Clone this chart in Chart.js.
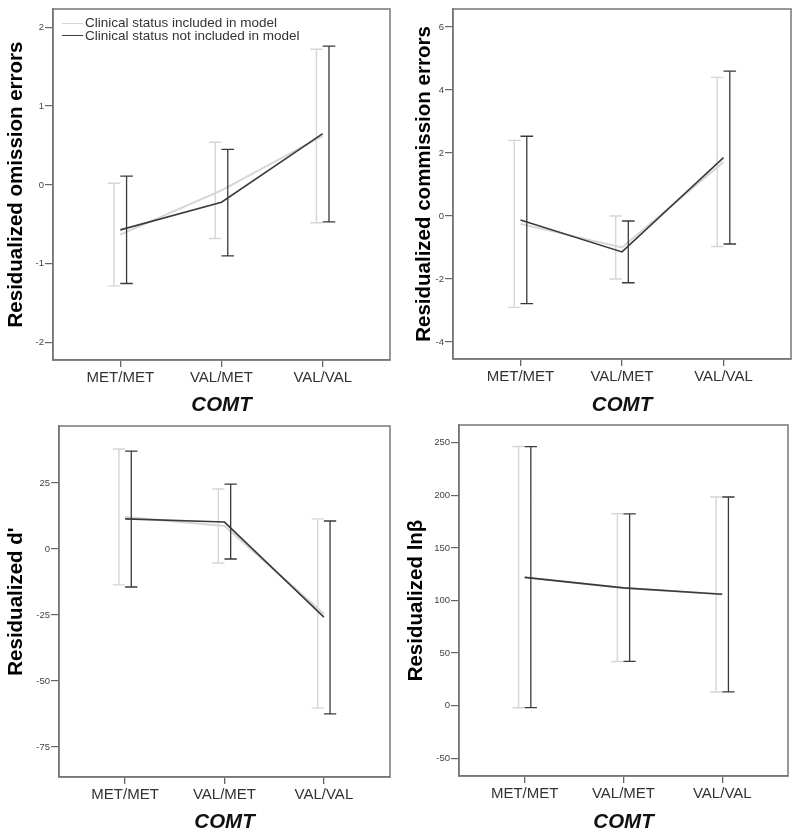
<!DOCTYPE html>
<html>
<head>
<meta charset="utf-8">
<script src="https://cdn.jsdelivr.net/npm/chart.js@4/dist/chart.umd.min.js"></script>
<style>
  html, body { margin: 0; padding: 0; background: #fff; }
  body { width: 800px; height: 835px; position: relative; overflow: hidden; font-family: "Liberation Sans", Arial, sans-serif; }
  .panel { position: absolute; }
  #legend { position: absolute; left: 62px; top: 17px; font-size: 13.5px; color: #333; line-height: 12.5px; }
  #legend .row { display: flex; align-items: center; height: 12.5px; white-space: nowrap; }
  #legend .swatch { display: inline-block; width: 21px; height: 0; border-top: 1.5px solid; margin-right: 2px; }
</style>
</head>
<body>
<div class="panel" style="left:0;top:0;width:400px;height:418px"><canvas id="c1" width="400" height="418"></canvas></div>
<div class="panel" style="left:408px;top:0;width:392px;height:418px"><canvas id="c2" width="392" height="418"></canvas></div>
<div class="panel" style="left:0;top:418px;width:400px;height:417px"><canvas id="c3" width="400" height="417"></canvas></div>
<div class="panel" style="left:400px;top:418px;width:400px;height:417px"><canvas id="c4" width="400" height="417"></canvas></div>
<div id="legend">
  <div class="row"><span class="swatch" style="border-color:#d6d6d6"></span>Clinical status included in model</div>
  <div class="row"><span class="swatch" style="border-color:#3a3a3a"></span>Clinical status not included in model</div>
</div>
<script>
// ---------- DATA ----------
const categories = ["MET/MET", "VAL/MET", "VAL/VAL"];
const seriesNames = ["Clinical status included in model", "Clinical status not included in model"];
const xAxisTitle = "COMT";

// Omission errors
const omissionIncludedMean = [-0.63, -0.07, 0.62];
const omissionIncludedLow  = [-1.28, -0.68, -0.48];
const omissionIncludedHigh = [0.02, 0.54, 1.72];
const omissionNotMean = [-0.57, -0.22, 0.65];
const omissionNotLow  = [-1.25, -0.90, -0.47];
const omissionNotHigh = [0.11, 0.45, 1.76];
const omissionTicks = [-2, -1, 0, 1, 2];

// Commission errors
const commissionIncludedMean = [-0.25, -1.0, 1.71];
const commissionIncludedLow  = [-2.9, -2.0, -0.97];
const commissionIncludedHigh = [2.4, 0.0, 4.4];
const commissionNotMean = [-0.13, -1.14, 1.85];
const commissionNotLow  = [-2.78, -2.12, -0.89];
const commissionNotHigh = [2.53, -0.16, 4.6];
const commissionTicks = [-4, -2, 0, 2, 4, 6];

// d'
const dprimeIncludedMean = [12.1, 8.7, -24.5];
const dprimeIncludedLow  = [-13.6, -5.3, -60.3];
const dprimeIncludedHigh = [37.9, 22.7, 11.4];
const dprimeNotMean = [11.4, 10.2, -25.8];
const dprimeNotLow  = [-14.4, -3.8, -62.5];
const dprimeNotHigh = [37.1, 24.6, 10.6];
const dprimeTicks = [-75, -50, -25, 0, 25];

// ln beta
const lnbIncludedMean = [122, 112, 106];
const lnbIncludedLow  = [-2, 42, 13];
const lnbIncludedHigh = [246.5, 182.5, 198.5];
const lnbNotMean = [122, 112, 106];
const lnbNotLow  = [-2, 42, 13];
const lnbNotHigh = [246.5, 182.5, 198.5];
const lnbTicks = [-50, 0, 50, 100, 150, 200, 250];

// ---------- STYLE ----------
const FONT = "'Liberation Sans', Arial, sans-serif";
const LIGHT = '#d6d6d6';
const DARK = '#3a3a3a';
const OFFSET = 0.062;  // horizontal offset of error bars from category centre (category units)
const CAP = 0.062;     // half width of error bar caps (category units)

function errorBarPoints(low, high, off) {
  const pts = [];
  for (let i = 0; i < low.length; i++) {
    const x = i + off;
    pts.push({x: x, y: low[i]}, {x: x, y: high[i]}, {x: x, y: null});
    pts.push({x: x - CAP, y: high[i]}, {x: x + CAP, y: high[i]}, {x: x, y: null});
    pts.push({x: x - CAP, y: low[i]}, {x: x + CAP, y: low[i]}, {x: x, y: null});
  }
  return pts;
}
function meanPoints(mean) {
  return mean.map((v, i) => ({x: i, y: v}));
}

const framePlugin = {
  id: 'frame',
  afterDraw(chart) {
    const a = chart.chartArea, ctx = chart.ctx;
    ctx.save();
    ctx.strokeStyle = '#777';
    ctx.lineWidth = 1.5;
    ctx.strokeRect(a.left, a.top, a.right - a.left, a.bottom - a.top);
    ctx.restore();
  }
};

function makeChart(id, cfg) {
  const datasets = [
    {label: seriesNames[1], data: meanPoints(cfg.notMean), borderColor: DARK, borderWidth: 1.6},
    {label: seriesNames[1] + ' CI', data: errorBarPoints(cfg.notLow, cfg.notHigh, OFFSET), borderColor: DARK, borderWidth: 1.3},
    {label: seriesNames[0], data: meanPoints(cfg.inMean), borderColor: LIGHT, borderWidth: 2},
    {label: seriesNames[0] + ' CI', data: errorBarPoints(cfg.inLow, cfg.inHigh, -OFFSET), borderColor: LIGHT, borderWidth: 1.4}
  ].map(d => Object.assign(d, {pointRadius: 0, pointHoverRadius: 0, spanGaps: false, tension: 0, fill: false}));

  new Chart(document.getElementById(id), {
    type: 'line',
    data: {datasets},
    options: {
      responsive: false,
      animation: false,
      events: [],
      layout: {padding: {left: 0, top: cfg.padTop, right: cfg.padRight, bottom: 0}},
      plugins: {legend: {display: false}, tooltip: {enabled: false}},
      scales: {
        x: {
          type: 'linear',
          min: -0.665, max: 2.665,
          afterBuildTicks(s) { s.ticks = categories.map((c, i) => ({value: i})); },
          afterFit(s) { s.height = cfg.xHeight; },
          ticks: {
            callback: (v) => categories[v],
            font: {family: FONT, size: 15},
            color: '#333',
            padding: 2,
            maxRotation: 0, autoSkip: false
          },
          grid: {drawOnChartArea: false, drawTicks: true, tickLength: 7, color: '#666', lineWidth: 1.3},
          border: {display: true, color: '#777', width: 1.5},
          title: {display: true, text: xAxisTitle, font: {family: FONT, size: 20.5, weight: 'bold', style: 'italic'}, color: '#111', padding: {top: 1, bottom: 0}}
        },
        y: {
          type: 'linear',
          min: cfg.yMin, max: cfg.yMax,
          afterBuildTicks(s) { s.ticks = cfg.ticks.map(v => ({value: v})); },
          afterFit(s) { s.width = cfg.yWidth; },
          ticks: {font: {family: FONT, size: 9.5}, color: '#444', padding: 1},
          grid: {drawOnChartArea: false, drawTicks: true, tickLength: 8, color: '#666', lineWidth: 1.2},
          border: {display: true, color: '#777', width: 1.5},
          title: {display: true, text: cfg.yTitle, font: {family: FONT, size: 20.5, weight: 'bold'}, color: '#000', padding: {top: 4, bottom: 0}}
        }
      }
    },
    plugins: [framePlugin]
  });
}

makeChart('c1', {
  inMean: omissionIncludedMean, inLow: omissionIncludedLow, inHigh: omissionIncludedHigh,
  notMean: omissionNotMean, notLow: omissionNotLow, notHigh: omissionNotHigh,
  ticks: omissionTicks, yMin: -2.22, yMax: 2.23, yTitle: 'Residualized omission errors',
  padTop: 9, padRight: 10, yWidth: 53, xHeight: 58
});
makeChart('c2', {
  inMean: commissionIncludedMean, inLow: commissionIncludedLow, inHigh: commissionIncludedHigh,
  notMean: commissionNotMean, notLow: commissionNotLow, notHigh: commissionNotHigh,
  ticks: commissionTicks, yMin: -4.54, yMax: 6.57, yTitle: 'Residualized commission errors',
  padTop: 9, padRight: 9, yWidth: 45, xHeight: 59
});
makeChart('c3', {
  inMean: dprimeIncludedMean, inLow: dprimeIncludedLow, inHigh: dprimeIncludedHigh,
  notMean: dprimeNotMean, notLow: dprimeNotLow, notHigh: dprimeNotHigh,
  ticks: dprimeTicks, yMin: -86.4, yMax: 46.6, yTitle: "Residualized d'",
  padTop: 8, padRight: 10, yWidth: 59, xHeight: 58
});
makeChart('c4', {
  inMean: lnbIncludedMean, inLow: lnbIncludedLow, inHigh: lnbIncludedHigh,
  notMean: lnbNotMean, notLow: lnbNotLow, notHigh: lnbNotHigh,
  ticks: lnbTicks, yMin: -67, yMax: 267, yTitle: 'Residualized lnβ',
  padTop: 7, padRight: 12, yWidth: 59, xHeight: 59
});
</script>
</body>
</html>
